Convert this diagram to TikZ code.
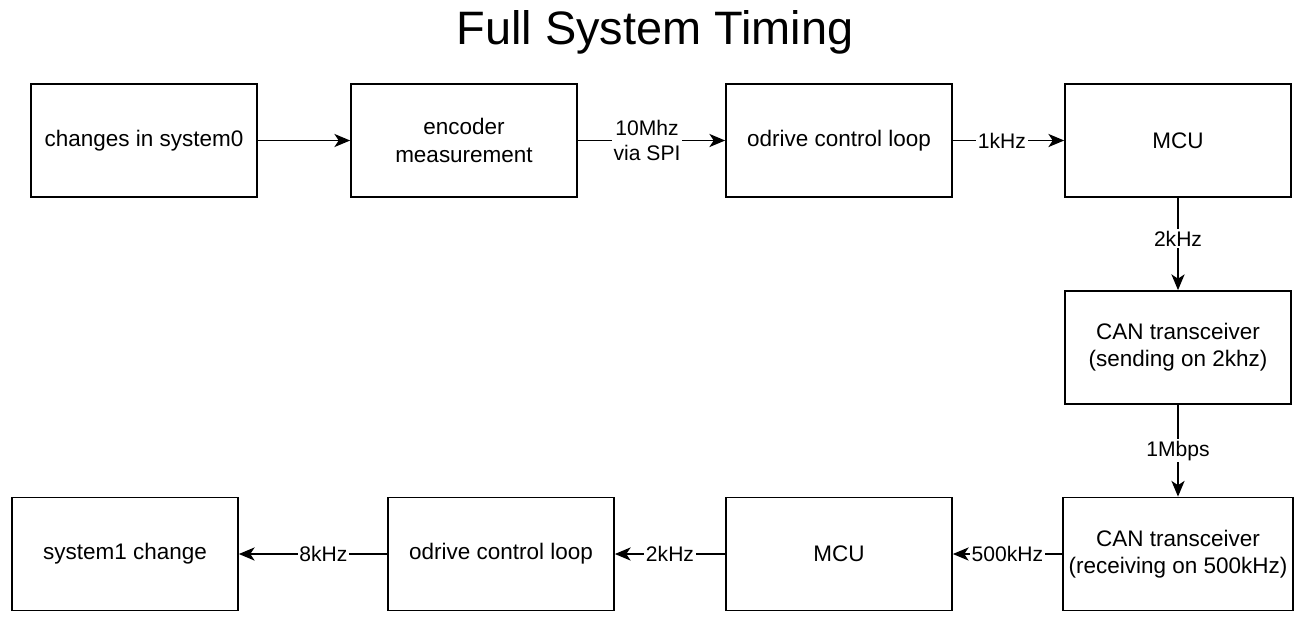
\documentclass[tikz,border=0pt]{standalone}
\usepackage{fontspec}
\setmainfont{Liberation Sans}
\usetikzlibrary{arrows.meta}

\begin{document}
\begin{tikzpicture}[x=0.02cm,y=-0.02cm,
    block/.style={rectangle,draw,line width=1pt,minimum width=4.52cm,minimum height=2.26cm,
      align=center,font=\fontsize{12.8}{15.5}\selectfont},
    link/.style={line width=0.8pt,-{Stealth[length=9pt,width=7.5pt,inset=2.5pt]}},
    rate/.style={fill=white,inner sep=1pt,align=center,font=\fontsize{12}{14.5}\selectfont}]

\useasboundingbox (0,0) rectangle (1297,616);

\node[font=\fontsize{26.7}{30}\selectfont] (title) at (655,32) {Full System Timing};

\node[block] (sys0) at (144,140.5) {changes in system0};
\node[block] (enc) at (464,140.5) {encoder\\measurement};
\node[block] (odrv) at (839,140.5) {odrive control loop};
\node[block] (mcu) at (1178,140.5) {MCU};
\node[block] (cantx) at (1178,347.5) {CAN transceiver\\(sending on 2khz)};
\node[block] (canrx) at (1178,554) {CAN transceiver\\(receiving on 500kHz)};
\node[block] (mcurx) at (839,554) {MCU};
\node[block] (odrvrx) at (501,554) {odrive control loop};
\node[block] (sys1) at (125,554) {system1 change};

\draw[link] (sys0) -- (enc);
\draw[link] (enc) -- node[rate,pos=0.47] {10Mhz\\via SPI} (odrv);
\draw[link] (odrv) -- node[rate,pos=0.44] {1kHz} (mcu);
\draw[link] (mcu) -- node[rate,pos=0.44] {2kHz} (cantx);
\draw[link] (cantx) -- node[rate] {1Mbps} (canrx);
\draw[link] (canrx) -- node[rate,pos=0.5] {500kHz} (mcurx);
\draw[link] (mcurx) -- node[rate,pos=0.5] {2kHz} (odrvrx);
\draw[link] (odrvrx) -- node[rate,pos=0.43] {8kHz} (sys1);
\end{tikzpicture}
\end{document}
